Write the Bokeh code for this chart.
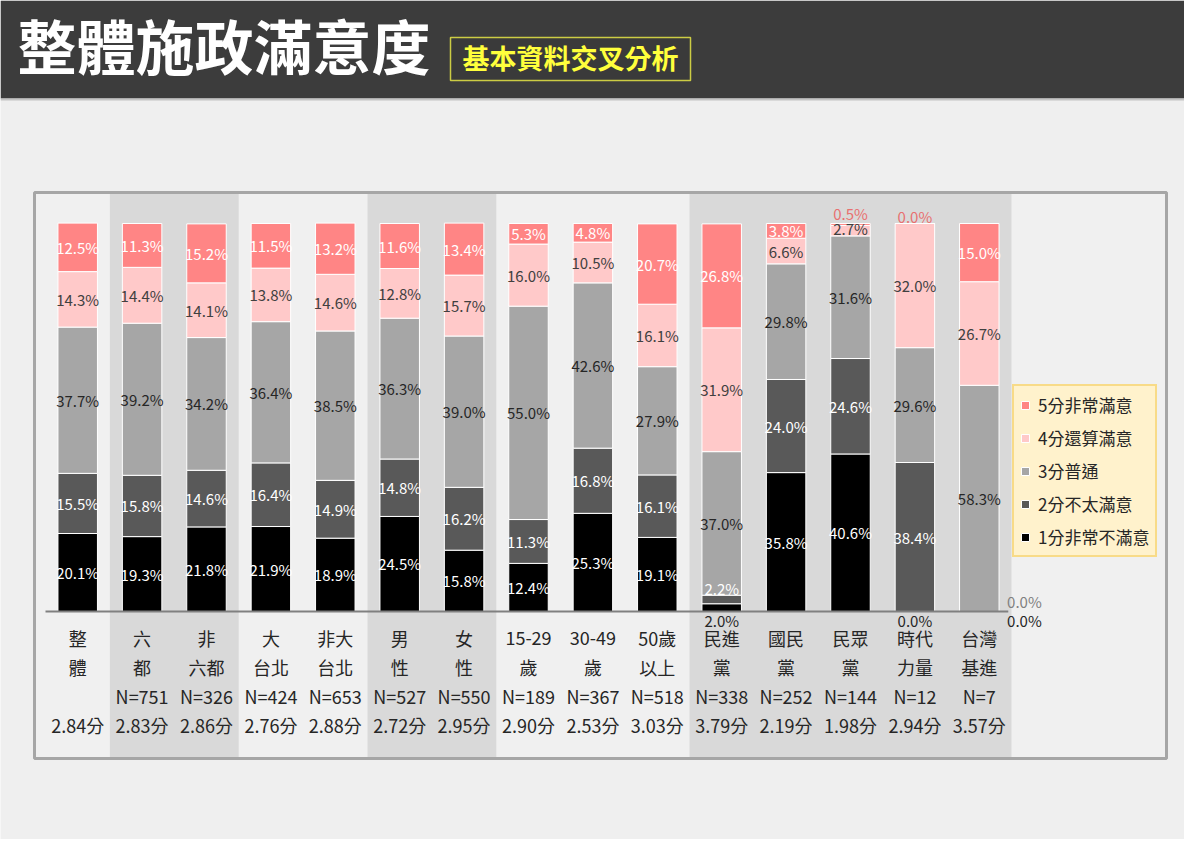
from bokeh.core.properties import value
from bokeh.embed import file_html
from bokeh.models import ColumnDataSource, Legend, LegendItem, Range1d
from bokeh.plotting import figure
from bokeh.resources import INLINE

FONT = "Noto Sans CJK TC"

# --- data --------------------------------------------------------------------
GROUP_TOP = ["整", "六", "非", "大", "非大", "男", "女", "15-29", "30-49", "50歲",
             "民進", "國民", "民眾", "時代", "台灣"]
GROUP_BOTTOM = ["體", "都", "六都", "台北", "台北", "性", "性", "歲", "歲", "以上",
                "黨", "黨", "黨", "力量", "基進"]
SAMPLE_N = ["", "N=751", "N=326", "N=424", "N=653", "N=527", "N=550", "N=189",
            "N=367", "N=518", "N=338", "N=252", "N=144", "N=12", "N=7"]
MEAN_SCORE = ["2.84分", "2.83分", "2.86分", "2.76分", "2.88分", "2.72分", "2.95分",
              "2.90分", "2.53分", "3.03分", "3.79分", "2.19分", "1.98分", "2.94分", "3.57分"]

SCORE_1 = [20.1, 19.3, 21.8, 21.9, 18.9, 24.5, 15.8, 12.4, 25.3, 19.1, 2.0, 35.8, 40.6, 0.0, 0.0]
SCORE_2 = [15.5, 15.8, 14.6, 16.4, 14.9, 14.8, 16.2, 11.3, 16.8, 16.1, 2.2, 24.0, 24.6, 38.4, 0.0]
SCORE_3 = [37.7, 39.2, 34.2, 36.4, 38.5, 36.3, 39.0, 55.0, 42.6, 27.9, 37.0, 29.8, 31.6, 29.6, 58.3]
SCORE_4 = [14.3, 14.4, 14.1, 13.8, 14.6, 12.8, 15.7, 16.0, 10.5, 16.1, 31.9, 6.6, 2.7, 32.0, 26.7]
SCORE_5 = [12.5, 11.3, 15.2, 11.5, 13.2, 11.6, 13.4, 5.3, 4.8, 20.7, 26.8, 3.8, 0.5, 0.0, 15.0]

LEVEL_NAMES = ["1分非常不滿意", "2分不太滿意", "3分普通", "4分還算滿意", "5分非常滿意"]

TITLE = "整體施政滿意度"
SUBTITLE = "基本資料交叉分析"

# column groups drawn on a darker band (first, last category index)
SHADED_GROUPS = [(1, 2), (5, 6), (10, 14)]

# --- styling -----------------------------------------------------------------
BAR_COLORS = ["#000000", "#595959", "#a6a6a6", "#ffc9c9", "#ff8585"]
LABEL_COLORS = ["#ffffff", "#ffffff", "#262626", "#404040", "#ffffff"]
SALMON_TEXT = "#e87070"

# labels Excel pushed out of tiny segments: (category, level) -> (dx, y, colour)
LABEL_MOVES = {
    (10, 0): (0.0, -2.3, "#262626"),
    (10, 1): (0.0, 5.9, "#ffffff"),
    (12, 3): (0.0, 98.7, "#404040"),
    (12, 4): (0.0, 102.6, SALMON_TEXT),
    (13, 4): (0.0, 101.9, SALMON_TEXT),
    (13, 0): (0.0, -2.3, "#262626"),
    (14, 1): (0.70, 2.5, "#808080"),
    (14, 0): (0.70, -2.3, "#262626"),
}

W, H = 1184, 839
X0, DX = 77.2, 64.4   # pixel centre of first category, pixels per category
Y0, DY = 611.0, 3.88  # pixel row of 0 %, pixels per percent


def px_x(px):
    return (px - X0) / DX


def px_y(py):
    return (Y0 - py) / DY


ROW_PX = [637.5, 666.5, 695.0, 724.5]

levels = [SCORE_1, SCORE_2, SCORE_3, SCORE_4, SCORE_5]
keys = ["s1", "s2", "s3", "s4", "s5"]
n = len(GROUP_TOP)
xs = list(range(n))

bars = ColumnDataSource(dict(x=xs, **{k: v for k, v in zip(keys, levels)}))

lx, ly, lt, lc = [], [], [], []
for i in xs:
    base = 0.0
    for k, vals in enumerate(levels):
        v = vals[i]
        x, y, c = i, base + v / 2, LABEL_COLORS[k]
        if (i, k) in LABEL_MOVES:
            dx, y, c = LABEL_MOVES[(i, k)]
            x = i + dx
        lx.append(x)
        ly.append(y)
        lt.append(f"{v:.1f}%")
        lc.append(c)
        base += v
labels = ColumnDataSource(dict(x=lx, y=ly, text=lt, color=lc))

p = figure(width=W, height=H, x_range=Range1d(px_x(0), px_x(W)),
           y_range=Range1d(px_y(H), px_y(0)), x_axis_type=None, y_axis_type=None,
           toolbar_location=None, output_backend="svg", title=None, min_border=0)
p.background_fill_color = "#efefef"
p.border_fill_color = "#efefef"
p.outline_line_color = None

# header bar
p.quad(left=px_x(0), right=px_x(W), top=px_y(0), bottom=px_y(98),
       fill_color="#3c3c3c", line_color=None)
p.line(x=[px_x(0), px_x(W)], y=[px_y(99), px_y(99)], line_color="#c4c4c4", line_width=2)
p.text(x=[px_x(17)], y=[px_y(44)], text=[TITLE], text_font=value(FONT),
       text_font_size="59px", text_font_style="bold", text_color="white",
       text_baseline="middle")
p.quad(left=px_x(450), right=px_x(690), top=px_y(37), bottom=px_y(80),
       fill_color="#3a3a3a", line_color="#cccc44", line_width=1.5)
p.text(x=[px_x(462)], y=[px_y(56.5)], text=[SUBTITLE], text_font=value(FONT),
       text_font_size="27px", text_font_style="bold", text_color="#ffff3c",
       text_baseline="middle")

# chart box and column bands
p.quad(left=px_x(34), right=px_x(1166), top=px_y(192), bottom=px_y(758),
       fill_color="#f0f0f0", line_color=None)
p.quad(left=[a - 0.5 for a, b in SHADED_GROUPS], right=[b + 0.5 for a, b in SHADED_GROUPS],
       bottom=px_y(758), top=px_y(192), fill_color="#d9d9d9", line_color=None)
p.quad(left=px_x(34), right=px_x(1166), top=px_y(192), bottom=px_y(758),
       fill_color=None, line_color="#a6a6a6", line_width=3)

stack = p.vbar_stack(keys, x="x", width=0.613, color=BAR_COLORS, line_color="white",
                     line_width=1, source=bars)

p.line(x=[-0.5, 14.45], y=[0, 0], line_color="#808080", line_width=2)

p.text(x="x", y="y", text="text", text_color="color", source=labels,
       text_font=value(FONT), text_font_size="15px", text_align="center",
       text_baseline="middle")

for row, texts in zip(ROW_PX, [GROUP_TOP, GROUP_BOTTOM, SAMPLE_N, MEAN_SCORE]):
    p.text(x=xs, y=[px_y(row)] * n, text=texts, text_font=value(FONT),
           text_font_size="18px", text_color="#262626", text_align="center",
           text_baseline="middle")

items = [LegendItem(label=LEVEL_NAMES[k], renderers=[stack[k]]) for k in reversed(range(5))]
legend = Legend(items=items, location=(1012, H - 557), glyph_width=10, glyph_height=10,
                label_height=20, spacing=8, padding=6, label_standoff=8,
                label_text_font=FONT, label_text_font_size="17px",
                label_text_color="#262626", border_line_color="#f2c443",
                border_line_width=2, background_fill_color="#fff2cc",
                background_fill_alpha=1.0)
p.add_layout(legend)

open("out.html", "w").write(file_html(p, INLINE, title=TITLE))
